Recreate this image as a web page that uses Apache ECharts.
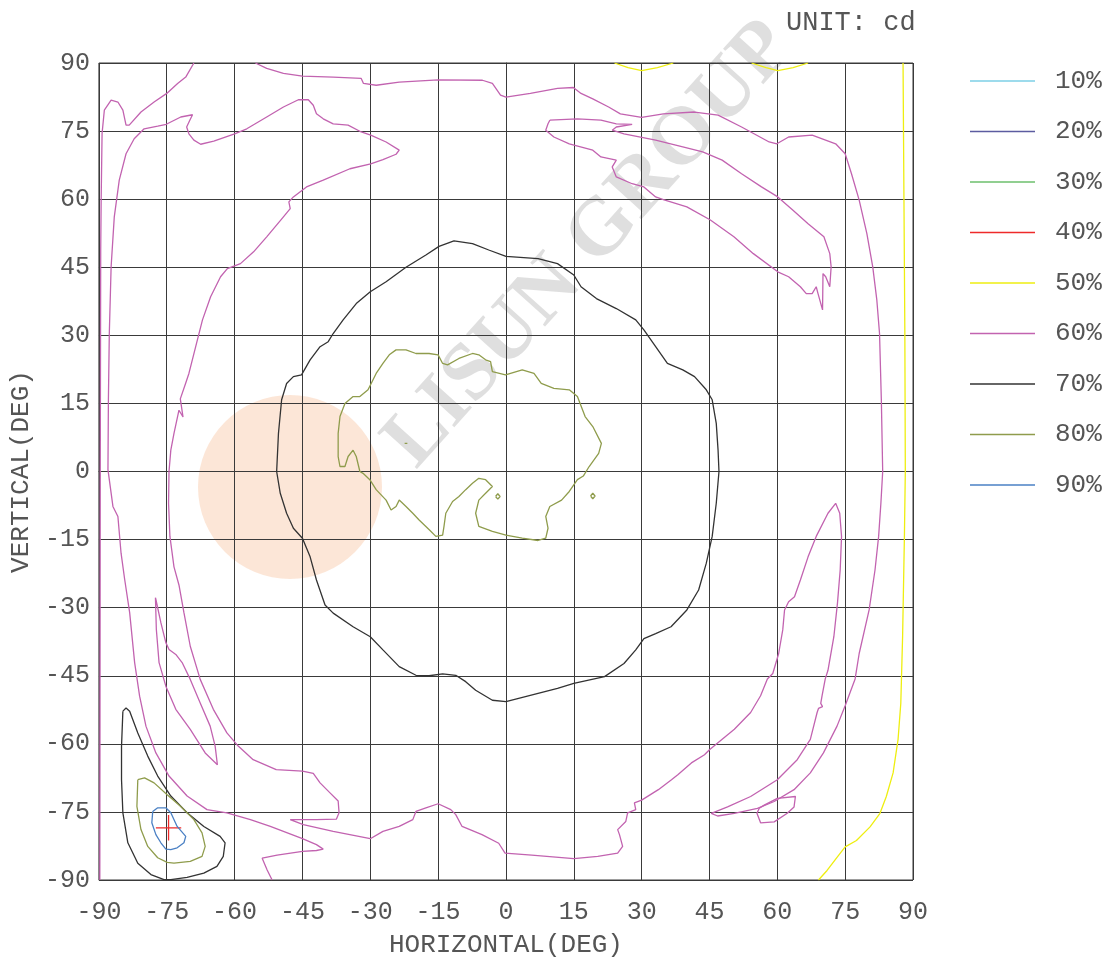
<!DOCTYPE html>
<html>
<head>
<meta charset="utf-8">
<script src="https://cdn.jsdelivr.net/npm/echarts@6/dist/echarts.min.js"></script>
<style>html,body{margin:0;padding:0;background:#fff}#c{width:1117px;height:965px}</style>
</head>
<body>
<div id="c"></div>
<script>
// ---- data (degrees: [horizontal, vertical]) ----
const levels = ['10%','20%','30%','40%','50%','60%','70%','80%','90%'];
const levelColors = ['#7ccfe6','#5c5ca0','#6cbf6c','#ee2a2a','#eeee10','#c263b0','#333333','#8f9c4c','#4a80c4'];

// 60% contours
const p60_left = [[-69,90],[-70.8,86.9],[-72.6,85.5],[-75,83.3],[-77.8,81.4],[-80.7,79.2],[-83.3,76.3],[-84.0,76.3],[-84.7,79.6],[-85.8,81.4],[-87.3,81.8],[-88.8,79.6],[-89.3,74.5],[-89.5,60],[-89.6,48.8],[-89.7,0],[-89.8,-90]];
const p60_main = [[-51.7,-90],[-52.8,-87.8],[-53.9,-85.2],[-50.6,-84.5],[-45,-83.7],[-41.9,-83.5],[-40.4,-83.2],[-41.9,-82.2],[-45,-80.9],[-52.1,-78.2],[-56.5,-76.7],[-61.7,-75.2],[-66.1,-74.5],[-70.5,-71.5],[-74.5,-67.1],[-77.4,-62.0],[-79.6,-56.1],[-81.0,-49.5],[-82.1,-42.1],[-83.2,-31.1],[-84.3,-23.8],[-85.1,-18],[-85.8,-9.9],[-86.9,-7.7],[-88.0,0.4],[-87.9,15.8],[-87.7,30.4],[-87.3,45.1],[-86.6,56.1],[-85.5,64.2],[-84.0,70.0],[-82.2,73.3],[-80.0,75.5],[-77.0,76.1],[-75.1,76.5],[-71.9,78.1],[-69.3,78.6],[-69.9,77.4],[-70.6,75.9],[-70.1,74.4],[-69.0,73.0],[-67.5,72.1],[-64.6,72.8],[-60,74.4],[-57.3,75.5],[-52.9,78.1],[-49.2,80.3],[-45.9,81.9],[-43.7,81.9],[-42.6,80.7],[-41.9,78.8],[-40.4,77.7],[-38.2,76.6],[-34.9,76.3],[-32.0,74.8],[-29.9,74.1],[-26.5,72.6],[-23.6,70.8],[-24.3,69.9],[-27.2,68.7],[-29.9,67.8],[-34.5,66.7],[-40.4,64.2],[-44.1,62.7],[-47.0,60.5],[-48.0,59.4],[-47.7,57.9],[-49.2,56.1],[-52.9,51.7],[-55.8,48.4],[-58.7,45.8],[-61.6,44.7],[-63.1,42.9],[-65.3,38.5],[-67.1,33.4],[-68.6,27.5],[-70.1,21.6],[-70.8,19.5],[-72.0,16.0],[-71.4,12.0],[-72.3,13.5],[-73.4,8.4],[-74.1,4.7],[-74.5,0],[-74.6,-7],[-74.3,-14.3],[-73.4,-21],[-72.3,-25],[-71.2,-31.1],[-69.8,-38.5],[-67.6,-45.8],[-64.7,-52.4],[-61.7,-57.6],[-59.2,-60.5],[-55.9,-63.5],[-50.8,-65.7],[-45,-66.0],[-42.6,-66.5],[-41.1,-68.6],[-38.9,-70.8],[-37.1,-72.6],[-36.9,-75.2],[-37.5,-76.6],[-41.9,-76.7],[-47.7,-76.7],[-44.8,-77.8],[-38.2,-79.3],[-30.0,-80.9],[-27.2,-79.3],[-23.6,-78.2],[-20.6,-76.7],[-19.9,-74.9],[-17.7,-74.1],[-15.0,-73.2],[-12.2,-74.5],[-11.1,-75.6],[-9.7,-78.2],[-5.3,-80.0],[-1.6,-81.9],[-0.2,-84.1],[5.7,-84.5],[15.0,-85.3],[20.3,-84.8],[24.7,-84.1],[25.8,-82.6],[25.1,-80.0],[24.7,-78.9],[26.5,-77.1],[26.9,-75.2],[28.7,-74.5],[28.4,-73.0],[30.0,-72.4],[33.7,-70.1],[36.6,-67.9],[38.0,-66.8],[41.0,-64.2],[43.9,-62.4],[45.0,-61.3],[46.8,-59.8],[50.5,-56.8],[54.1,-53.1],[56.3,-49.4],[57.8,-45.7],[59.0,-44.5],[60.3,-40.1],[61.2,-34.9],[61.6,-30.5],[62.5,-28.7],[63.8,-27.6],[65.1,-23.9],[66.8,-18.8],[68.6,-14.3],[71.2,-9.2],[72.9,-7.0],[73.8,-9.2],[74.2,-14.3],[73.9,-21.7],[73.3,-29],[72.5,-36.4],[71.2,-43.8],[70.6,-45.7],[69.9,-49.4],[69.6,-51.1],[70.0,-51.8],[69.1,-52.2],[68.8,-53.1],[67.3,-59.0],[64.4,-63.5],[60.0,-67.9],[54.1,-71.6],[49.0,-73.9],[45.4,-75.3],[46.8,-75.9],[50.5,-75.3],[55.6,-74.2],[59.3,-72.7],[63.7,-70.1],[67.3,-66.4],[70.2,-62.0],[73.2,-56.1],[75.0,-51.6],[77.2,-45.7],[78.1,-40.1],[80.3,-30.5],[81.6,-21.7],[82.4,-14.3],[82.9,-7],[83.3,0],[83.0,15.8],[82.6,30.4],[82.0,37.8],[81.1,45.1],[79.8,52.4],[78.1,59.8],[76.4,65.6],[75,70],[72.9,72.2],[67.7,74.1],[62.5,73.7],[59.9,72.2],[58.2,72.6],[52.1,75.9],[46.9,78.5],[41.7,79.2],[34.8,78.8],[30,78],[25.3,78.8],[22.7,80.3],[19.2,82.1],[16.6,83.3],[14.9,84.6],[11.4,84.4],[5.4,83.3],[0,82.5],[-1.2,82.9],[-3.0,85.5],[-5.2,86.2],[-15,86.3],[-23.6,85.8],[-28.7,85.1],[-31.5,85.5],[-32.0,86.6],[-38.2,86.9],[-45,87.1],[-49.2,87.7],[-52.9,88.8],[-55.4,90]];
const p60_narrow = [[-77.5,-27.8],[-77.3,-34.8],[-76.7,-42.1],[-75.2,-47.3],[-73.0,-52.4],[-69.8,-56.8],[-66.5,-62.0],[-63.8,-64.6],[-63.6,-64.2],[-64.3,-60.5],[-65.4,-56.1],[-67.6,-51.0],[-69.8,-45.8],[-71.6,-42.1],[-73.0,-40.3],[-74.5,-39.2],[-75.2,-37.7],[-76.3,-33.3],[-77.4,-28.2],[-77.5,-27.8]];
const p60_upperRight = [[9.7,77.4],[15.8,77.7],[21.0,77.4],[24.4,76.6],[27.9,76.5],[24.4,75.9],[23.5,75.2],[26.1,74.4],[33.1,73.0],[39.1,71.5],[43.5,70.4],[47.8,68.6],[52.1,65.6],[56.5,62.7],[60.1,60.5],[63.4,57.6],[66.8,54.6],[70.3,51.7],[71.6,48.0],[71.9,45.1],[71.6,40.7],[70.7,42.9],[70.1,43.6],[70.0,35.6],[69.0,39.2],[68.6,40.7],[67.7,39.2],[66.4,39.2],[65.1,40.7],[62.5,42.9],[60.1,44.0],[54.7,48.0],[50.4,51.7],[45.2,55.4],[40.0,58.3],[34.8,59.9],[33.1,60.5],[30.5,62.7],[27.9,63.4],[24.4,64.9],[23.5,67.1],[24.4,68.6],[21.0,69.3],[19.2,70.8],[14.0,72.2],[10.6,73.7],[8.8,75.2],[9.3,76.6],[9.7,77.4]];
const p60_smallLoop = [[57.1,-73.5],[60.0,-72.0],[64.0,-71.6],[63.7,-73.9],[62.2,-75.3],[59.3,-77.2],[56.3,-77.4],[55.5,-75.3],[56.0,-74.2],[57.1,-73.5]];

// 70% contours
const p70_center = [[-50.7,0],[-50.3,8.4],[-49.6,15.8],[-48.5,19.4],[-47,20.9],[-45.2,21.3],[-43.3,24.6],[-41.1,27.5],[-39.3,28.6],[-38.2,30.4],[-36,33.4],[-33.1,37.0],[-30,39.6],[-26.5,41.8],[-22.1,45],[-17.7,47.7],[-14.8,49.6],[-11.5,50.8],[-7.4,50.2],[-3.8,48.8],[0,47.4],[7.1,46.9],[11.4,45.8],[15,43.3],[16.6,40.7],[20,38.1],[24.4,35.9],[28.7,33.4],[30.5,31.2],[33.1,27.5],[35.7,23.8],[39.1,22.4],[41.7,20.9],[44.3,18],[45.6,15.8],[46.5,10.6],[46.9,4.7],[47.1,0],[46.5,-7],[45.6,-14.3],[44.3,-20.2],[42.6,-26.1],[40,-30.5],[36.5,-34.2],[33.1,-35.7],[30.5,-36.8],[28.7,-39.3],[26.1,-42.3],[21.8,-45.2],[15,-46.7],[11.4,-47.8],[7.1,-48.9],[0,-50.7],[-3,-50.4],[-6.7,-48.2],[-8.9,-46.3],[-11.1,-44.9],[-14,-44.6],[-17,-45],[-19.9,-44.9],[-23.6,-43],[-27.2,-39.3],[-30,-36.4],[-33.8,-34.2],[-38.2,-31.2],[-40,-29.4],[-41.9,-23.9],[-43.3,-18.8],[-45,-14.7],[-47,-12.5],[-48.5,-9.2],[-49.9,-4.8],[-50.7,0]];
const p70_corner = [[-84.7,-52.8],[-84.0,-52.1],[-83.2,-52.8],[-81.4,-57.6],[-79.2,-62.7],[-77.0,-67.1],[-74.1,-71.5],[-70.5,-75.2],[-66.8,-78.2],[-63.2,-80.4],[-62.1,-81.8],[-62.5,-84.8],[-63.9,-87.0],[-66.8,-88.5],[-70.5,-89.4],[-74.1,-89.9],[-75.6,-89.9],[-78.5,-88.8],[-81.4,-86.3],[-83.6,-81.8],[-84.7,-75.2],[-85.0,-67.9],[-85.0,-60.5],[-84.7,-52.8]];

// 80% contours
const p80_center = [[-32.3,0],[-33.1,3.3],[-33.8,4.7],[-34.9,3.3],[-35.6,1.1],[-36.7,1.1],[-37.1,3.3],[-37.1,8.4],[-36.7,12.1],[-35.6,15.0],[-33.8,16.5],[-32.3,16.5],[-30.5,18.0],[-29.8,19.4],[-28.7,21.6],[-27.2,23.8],[-25.8,25.7],[-24.3,26.8],[-22.1,26.8],[-19.9,26.0],[-17.0,26.0],[-15.0,25.7],[-14.0,23.8],[-12.9,23.5],[-10.4,24.9],[-7.4,26.0],[-6.0,25.7],[-4.5,24.6],[-3.4,24.2],[-3.0,22.0],[-0.1,21.3],[3.6,22.4],[6.2,21.6],[7.8,19.4],[10.6,18.3],[14,18],[15.8,16.5],[17.5,12.1],[19.2,9.9],[21.1,6.2],[20.5,4],[18.4,1.1],[17.1,-1],[15.8,-1.8],[14,-4.4],[12.3,-6.3],[9.7,-7.7],[8.8,-9.9],[9.3,-12.5],[8.8,-14.7],[7.1,-15.2],[3.6,-14.7],[0,-14],[-3,-13.2],[-6,-12.1],[-6.7,-9.2],[-6,-6.3],[-4.5,-4.8],[-3,-3.3],[-4.5,-1.8],[-6,-1.5],[-7.4,-2.6],[-8.9,-4],[-10.4,-5.5],[-11.8,-6.6],[-13.3,-9.2],[-13.7,-12.1],[-14,-14],[-15.5,-14.3],[-16.9,-12.9],[-19.2,-10.7],[-20.6,-9.2],[-22.1,-7.7],[-23.6,-6.3],[-24.3,-7.7],[-25.4,-8.5],[-26.5,-6.3],[-28.7,-4.0],[-30.1,-1.8],[-31.6,-0.4],[-32.3,0]];
const p80_dotA = [[-22.4,6.2],[-22.1,6.5],[-21.8,6.2],[-22.1,5.9],[-22.4,6.2]];
const p80_dotB = [[-2.3,-5.5],[-1.8,-4.9],[-1.3,-5.5],[-1.8,-6.1],[-2.3,-5.5]];
const p80_dotC = [[18.7,-5.4],[19.2,-4.8],[19.7,-5.4],[19.2,-6.0],[18.7,-5.4]];
const p80_corner = [[-81.4,-67.9],[-79.9,-67.5],[-77.8,-68.6],[-74.9,-71.2],[-71.9,-73.8],[-69.0,-76.7],[-67.2,-79.6],[-66.5,-82.6],[-67.2,-84.8],[-69.8,-85.9],[-73.4,-86.3],[-74.9,-86.1],[-77.0,-85.1],[-79.2,-82.6],[-80.7,-78.9],[-81.6,-73.8],[-81.4,-67.9]];

// 90% contour
const p90_corner = [[-78.1,-74.9],[-77.0,-74.1],[-75.2,-74.1],[-74.1,-75.2],[-72.7,-78.2],[-70.8,-80.4],[-71.2,-81.8],[-72.7,-82.9],[-74.1,-83.3],[-75.2,-83.2],[-76.3,-81.8],[-77.4,-80.0],[-78.3,-77.4],[-78.1,-74.9]];

// 40% (peak marker cross)
const p40_crossH = [[-77.4,-78.5],[-71.8,-78.5]];
const p40_crossV = [[-74.6,-75.7],[-74.6,-81.3]];

// 50% contours
const p50_right = [[87.8,90],[88.0,60],[88.2,30],[88.3,0],[88.1,-14.3],[87.7,-36.4],[87.3,-51.1],[86.7,-59],[85.6,-66.4],[84.1,-71.6],[82.7,-75.3],[80.5,-78.3],[77.5,-81.3],[75,-82.7],[73.2,-85],[71,-87.9],[69.1,-90]];
const p50_topA = [[24,90],[27,89],[30,88.3],[33.5,89],[37,90]];
const p50_topB = [[54.3,90],[57.5,89],[60.1,88.3],[63.5,89],[66.8,90]];

const contours = [
  ['40%', p40_crossH], ['40%', p40_crossV],
  ['50%', p50_right], ['50%', p50_topA], ['50%', p50_topB],
  ['60%', p60_left], ['60%', p60_main], ['60%', p60_narrow], ['60%', p60_upperRight], ['60%', p60_smallLoop],
  ['70%', p70_center], ['70%', p70_corner],
  ['80%', p80_center], ['80%', p80_dotA], ['80%', p80_dotB], ['80%', p80_dotC], ['80%', p80_corner],
  ['90%', p90_corner]
];

// ---- chart ----
const chart = echarts.init(document.getElementById('c'));
const mono = 'Liberation Mono';
const series = [];
// one (possibly empty) series per level first, so the legend shows all levels
levels.forEach((lv, i) => {
  series.push({name: lv, type: 'line', data: [], symbol: 'none', silent: true,
    lineStyle: {color: levelColors[i], width: 1.3}, itemStyle: {color: levelColors[i]}});
});
contours.forEach(([lv, pts]) => {
  const i = levels.indexOf(lv);
  series.push({name: lv, type: 'line', data: pts, symbol: 'none', silent: true, clip: true,
    lineStyle: {color: levelColors[i], width: 1.3}, itemStyle: {color: levelColors[i]}});
});

chart.setOption({
  animation: false,
  backgroundColor: '#fff',
  grid: {left: 97, top: 63, width: 816, height: 817, show: true, borderColor: '#3a3a3a', borderWidth: 1},
  xAxis: {
    type: 'value', min: -90, max: 90, interval: 15,
    name: 'HORIZONTAL(DEG)', nameLocation: 'middle', nameGap: 52,
    nameTextStyle: {fontFamily: mono, fontSize: 26, color: '#555'},
    axisLine: {show: true, lineStyle: {color: '#3a3a3a'}},
    axisTick: {show: false},
    axisLabel: {fontFamily: mono, fontSize: 25, color: '#555', margin: 20},
    splitLine: {show: true, lineStyle: {color: '#3a3a3a', width: 1}}
  },
  yAxis: {
    type: 'value', min: -90, max: 90, interval: 15,
    name: 'VERTICAL(DEG)', nameLocation: 'middle', nameGap: 62, nameRotate: 90,
    nameTextStyle: {fontFamily: mono, fontSize: 26, color: '#555'},
    axisLine: {show: true, lineStyle: {color: '#3a3a3a'}},
    axisTick: {show: false},
    axisLabel: {fontFamily: mono, fontSize: 25, color: '#555', margin: 9},
    splitLine: {show: true, lineStyle: {color: '#3a3a3a', width: 1}}
  },
  legend: {
    data: levels, orient: 'vertical', left: 965, top: 63, padding: 5,
    icon: 'rect', itemWidth: 65, itemHeight: 1.5, itemGap: 24.5, selectedMode: false,
    textStyle: {fontFamily: mono, fontSize: 26, lineHeight: 26, color: '#555', padding: [0, 0, 0, 15]}
  },
  graphic: [
    {type: 'text', left: 786, top: 9, z: 10,
     style: {text: 'UNIT: cd', font: '27px "Liberation Mono"', fill: '#555'}},
    {type: 'circle', shape: {cx: 290, cy: 487, r: 92}, z: -1, silent: true,
     style: {fill: 'rgba(248,196,160,0.42)'}},
    {type: 'text', x: 590, y: 245, rotation: 48 * Math.PI / 180, z: -1, silent: true,
     style: {text: 'LISUN GROUP', font: 'bold 82px "Liberation Serif"', fill: 'rgba(150,150,150,0.30)',
             textAlign: 'center', textVerticalAlign: 'middle'}}
  ],
  series: series
});
</script>
</body>
</html>
